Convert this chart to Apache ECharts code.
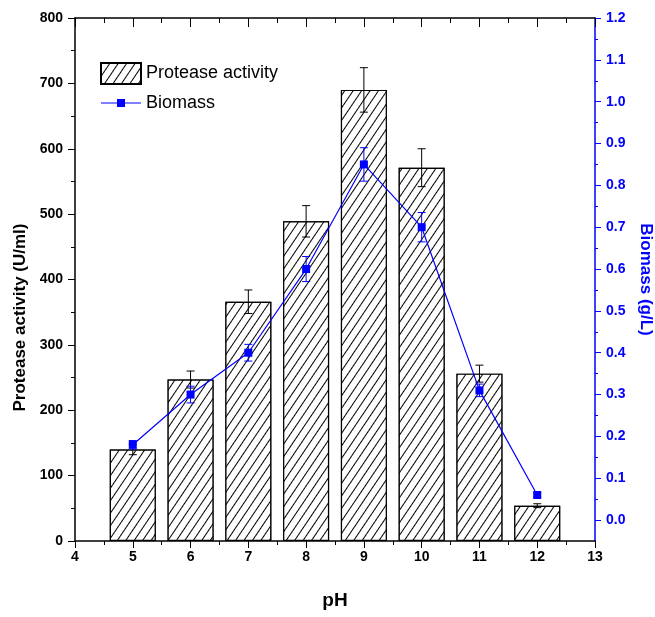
<!DOCTYPE html>
<html>
<head>
<meta charset="utf-8">
<title>Protease activity and biomass vs pH</title>
<script src="https://cdn.jsdelivr.net/npm/echarts@6/dist/echarts.min.js"></script>
<style>
  html, body { margin: 0; padding: 0; background: #fff; }
  #chart { width: 655px; height: 617px; }
</style>
</head>
<body>
<div id="chart"></div>
<script>
// data
const phValues = [5, 6, 7, 8, 9, 10, 11, 12];
const proteaseActivity = [140, 247, 366, 489, 690, 571, 256, 54];
const proteaseError = [8, 13, 18, 24, 34, 29, 13, 3];
const biomass = [0.18, 0.30, 0.40, 0.60, 0.85, 0.70, 0.31, 0.06];
const biomassError = [0.01, 0.02, 0.02, 0.03, 0.04, 0.035, 0.015, 0.005];

// right axis ticks (axis starts at -0.05)
const biomassTicks = [0, 0.1, 0.2, 0.3, 0.4, 0.5, 0.6, 0.7, 0.8, 0.9, 1.0, 1.1, 1.2];
const biomassMinorTicks = [0.05, 0.15, 0.25, 0.35, 0.45, 0.55, 0.65, 0.75, 0.85, 0.95, 1.05, 1.15];

const FONT = "'Liberation Sans', Arial, sans-serif";
const BLUE = '#0000ff';

const chart = echarts.init(document.getElementById('chart'));

// error bar drawer for custom series: value = [x, low, high]
function errorBar(color) {
  return function (params, api) {
    const x = api.value(0);
    const hi = api.coord([x, api.value(2)]);
    const lo = api.coord([x, api.value(1)]);
    const half = 4;
    const style = { stroke: color, lineWidth: 1 };
    return {
      type: 'group',
      children: [
        { type: 'line', shape: { x1: hi[0], y1: hi[1], x2: lo[0], y2: lo[1] }, style: style },
        { type: 'line', shape: { x1: hi[0] - half, y1: hi[1], x2: hi[0] + half, y2: hi[1] }, style: style },
        { type: 'line', shape: { x1: lo[0] - half, y1: lo[1], x2: lo[0] + half, y2: lo[1] }, style: style }
      ]
    };
  };
}

const barData = phValues.map((x, i) => [x, proteaseActivity[i]]);
const barErr = phValues.map((x, i) => [x, proteaseActivity[i] - proteaseError[i], proteaseActivity[i] + proteaseError[i]]);
const lineData = phValues.map((x, i) => [x, biomass[i]]);
const lineErr = phValues.map((x, i) => [x, biomass[i] - biomassError[i], biomass[i] + biomassError[i]]);

const hatch = {
  symbol: 'rect',
  symbolSize: 1,
  color: '#000',
  backgroundColor: '#fff',
  dashArrayX: [1, 0],
  dashArrayY: [1, 6],
  rotation: -Math.PI * 56 / 180
};

const option = {
  animation: false,
  backgroundColor: '#fff',
  grid: { left: 75, right: 60, top: 18, bottom: 76, outerBoundsMode: 'none', containLabel: false },
  legend: {
    orient: 'vertical',
    left: 100,
    top: 62,
    padding: 0,
    itemWidth: 40,
    itemHeight: 21,
    itemGap: 9,
    textStyle: { fontFamily: FONT, fontSize: 18, color: '#000' },
    data: [
      { name: 'Protease activity', icon: 'rect' },
      { name: 'Biomass', icon: 'path://M0,3.5h16v1h-16zM16,0h8v8h-8zM24,3.5h16v1h-16z' }
    ],
    symbolKeepAspect: true
  },
  xAxis: [
    {
      type: 'value', min: 4, max: 13, interval: 1,
      position: 'bottom',
      name: 'pH', nameLocation: 'middle', nameGap: 50,
      nameTextStyle: { fontFamily: FONT, fontSize: 19, fontWeight: 'bold', color: '#000' },
      axisLine: { onZero: false, lineStyle: { color: '#000', width: 1.5 } },
      axisTick: { show: true, length: 7, lineStyle: { color: '#000' } },
      minorTick: { show: true, splitNumber: 2, length: 4, lineStyle: { color: '#000' } },
      axisLabel: { margin: 9, fontFamily: FONT, fontSize: 14, fontWeight: 'bold', color: '#000' },
      splitLine: { show: false }
    },
    {
      type: 'value', min: 4, max: 13, interval: 1,
      position: 'top',
      axisLine: { onZero: false, lineStyle: { color: '#000', width: 1.5 } },
      axisTick: { show: true, inside: true, length: 9, lineStyle: { color: '#000' } },
      minorTick: { show: true, splitNumber: 2, length: 5, lineStyle: { color: '#000' } },
      axisLabel: { show: false },
      splitLine: { show: false }
    }
  ],
  yAxis: [
    {
      type: 'value', min: 0, max: 800, interval: 100,
      position: 'left',
      name: 'Protease activity (U/ml)', nameLocation: 'middle', nameGap: 46, nameRotate: 90,
      nameTextStyle: { fontFamily: FONT, fontSize: 17, fontWeight: 'bold', color: '#000', padding: [0, 76, 0, 0] },
      axisLine: { show: true, onZero: false, lineStyle: { color: '#000', width: 1.5 } },
      axisTick: { show: true, length: 7, lineStyle: { color: '#000' } },
      minorTick: { show: true, splitNumber: 2, length: 4, lineStyle: { color: '#000' } },
      axisLabel: { margin: 12, fontFamily: FONT, fontSize: 14, fontWeight: 'bold', color: '#000' },
      splitLine: { show: false }
    },
    {
      type: 'value', min: -0.05, max: 1.2,
      position: 'right',
      name: 'Biomass (g/L)', nameLocation: 'middle', nameGap: 42, nameRotate: -90,
      nameTextStyle: { fontFamily: FONT, fontSize: 17, fontWeight: 'bold', color: BLUE },
      axisLine: { show: true, onZero: false, lineStyle: { color: BLUE, width: 1.5 } },
      axisTick: { show: true, length: 6, customValues: biomassTicks, lineStyle: { color: BLUE } },
      axisLabel: {
        margin: 11, fontFamily: FONT, fontSize: 14, fontWeight: 'bold', color: BLUE,
        customValues: biomassTicks,
        formatter: v => v.toFixed(1)
      },
      splitLine: { show: false }
    },
    {
      type: 'value', min: -0.05, max: 1.2,
      position: 'right',
      axisLine: { show: false, onZero: false },
      axisTick: { show: true, length: 3, customValues: biomassMinorTicks, lineStyle: { color: BLUE } },
      axisLabel: { show: false },
      splitLine: { show: false }
    }
  ],
  series: [
    {
      name: 'Protease activity',
      type: 'bar',
      xAxisIndex: 0,
      yAxisIndex: 0,
      barWidth: 46,
      data: barData,
      z: 2,
      itemStyle: { color: '#fff', borderColor: '#000', borderWidth: 1.2, decal: hatch }
    },
    {
      type: 'custom',
      xAxisIndex: 0,
      yAxisIndex: 0,
      renderItem: errorBar('#000'),
      encode: { x: 0, y: [1, 2] },
      data: barErr,
      z: 3,
      silent: true
    },
    {
      type: 'custom',
      xAxisIndex: 0,
      yAxisIndex: 1,
      renderItem: errorBar(BLUE),
      encode: { x: 0, y: [1, 2] },
      data: lineErr,
      z: 4,
      silent: true
    },
    {
      name: 'Biomass',
      type: 'line',
      xAxisIndex: 0,
      yAxisIndex: 1,
      data: lineData,
      symbol: 'rect',
      symbolSize: 8,
      color: BLUE,
      lineStyle: { color: BLUE, width: 1.2 },
      itemStyle: { color: BLUE },
      z: 5
    }
  ]
};

chart.setOption(option);
</script>
</body>
</html>
